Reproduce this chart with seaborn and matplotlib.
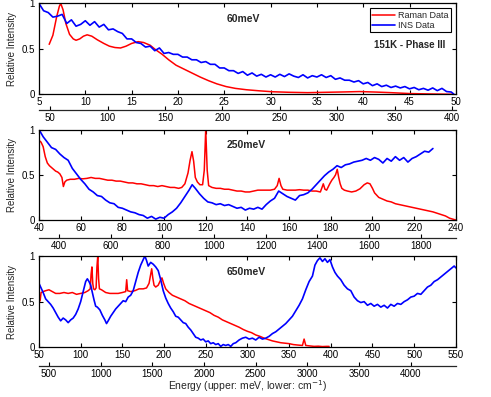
import numpy as np
import matplotlib
matplotlib.use("Agg")
import matplotlib.pyplot as plt
import seaborn as sns

# panel 1 : 60meV incident energy, 5 - 50 meV
raman1_e = [6.1, 6.5, 6.9, 7.2, 7.35, 7.6, 7.9, 8.3, 8.7, 9.0, 9.4, 9.8, 10.2, 10.7, 11.3, 12.0, 12.6,
            13.2, 13.8, 14.4, 15.0, 15.7, 16.3, 17.0, 17.6, 18.3, 19.0, 19.8, 20.6, 21.5, 22.4, 23.3,
            24.2, 25.2, 26.2, 27.4, 28.8, 30.2, 32.0, 34.0, 36.0, 38.0, 39.6, 41.5, 43.0, 45.0, 47.0, 49.7]
raman1_i = [0.55, 0.65, 0.85, 0.97, 1.0, 0.93, 0.78, 0.66, 0.61, 0.595, 0.61, 0.64, 0.655, 0.64, 0.60,
            0.56, 0.53, 0.515, 0.51, 0.53, 0.56, 0.58, 0.57, 0.54, 0.49, 0.44, 0.38, 0.32, 0.28, 0.235,
            0.19, 0.15, 0.115, 0.085, 0.065, 0.05, 0.038, 0.028, 0.022, 0.018, 0.022, 0.026, 0.03,
            0.024, 0.018, 0.008, 0.004, 0.0]
ins1_e = [5.0, 5.5, 6.0, 6.5, 7.0, 7.5, 8.0, 8.5, 9.0, 9.5, 10.0, 10.5, 11.0, 11.5, 12.0, 12.5, 13.0,
          13.5, 14.0, 14.5, 15.0, 15.5, 16.0, 16.5, 17.0, 17.5, 18.0, 18.5, 19.0, 19.5, 20.0, 20.5,
          21.0, 21.5, 22.0, 22.5, 23.0, 23.5, 24.0, 24.5, 25.0, 25.5, 26.0, 26.5, 27.0, 27.5, 28.0,
          28.5, 29.0, 29.5, 30.0, 30.5, 31.0, 31.5, 32.0, 32.5, 33.0, 33.5, 34.0, 34.5, 35.0, 35.5,
          36.0, 36.5, 37.0, 37.5, 38.0, 38.5, 39.0, 39.5, 40.0, 40.5, 41.0, 41.5, 42.0, 42.5, 43.0,
          43.5, 44.0, 44.5, 45.0, 45.5, 46.0, 46.5, 47.0, 47.5, 48.0, 48.5, 49.0, 49.5, 49.8]
ins1_i = [1.00, 0.92, 0.90, 0.85, 0.86, 0.88, 0.78, 0.82, 0.75, 0.77, 0.81, 0.76, 0.80, 0.74, 0.77,
          0.71, 0.72, 0.69, 0.67, 0.61, 0.61, 0.57, 0.56, 0.52, 0.53, 0.48, 0.51, 0.45, 0.46, 0.44,
          0.44, 0.41, 0.41, 0.38, 0.38, 0.35, 0.36, 0.33, 0.33, 0.29, 0.29, 0.26, 0.26, 0.23, 0.25,
          0.21, 0.235, 0.20, 0.22, 0.19, 0.215, 0.19, 0.22, 0.195, 0.225, 0.20, 0.185, 0.215, 0.18,
          0.205, 0.19, 0.215, 0.185, 0.205, 0.165, 0.18, 0.155, 0.155, 0.135, 0.15, 0.115, 0.13, 0.095,
          0.115, 0.085, 0.10, 0.075, 0.09, 0.07, 0.085, 0.06, 0.075, 0.05, 0.065, 0.045, 0.07, 0.04,
          0.065, 0.03, 0.025, 0.0]

# panel 2 : 250meV, 40 - 240 meV
raman2_e = [40, 41, 42, 43, 44, 45, 46, 47, 48, 49, 50, 51, 51.7, 52.4, 53.3, 55, 57, 59, 61, 63, 65,
            67, 69, 71, 73, 75, 77, 79, 81, 83, 85, 87, 89, 91, 93, 95, 97, 99, 101, 103, 105, 107,
            108.5, 110, 111.5, 112.5, 113.4, 114.2, 115, 116, 117.2, 118.5, 119.3, 120, 120.7, 121.4,
            123, 125, 127, 129, 131, 133, 135, 137, 139, 141, 143, 145, 147, 149, 151, 153, 154.3,
            155.2, 156.1, 157, 159, 161, 163, 165, 167, 169, 171, 173, 175, 175.8, 176.4, 177.2, 178,
            179.5, 180.5, 181.5, 182.3, 183.1, 183.8, 184.5, 185.3, 186.5, 188, 190, 192, 194, 196,
            197.5, 198.8, 200, 201, 203, 205, 207, 209, 211, 213, 215, 217, 219, 221, 223, 225, 227,
            229, 231, 233, 235, 237, 238.5, 240]
raman2_i = [0.88, 0.86, 0.81, 0.70, 0.63, 0.60, 0.58, 0.56, 0.54, 0.53, 0.51, 0.47, 0.37, 0.42, 0.44,
            0.45, 0.45, 0.46, 0.455, 0.46, 0.47, 0.46, 0.46, 0.45, 0.44, 0.44, 0.43, 0.43, 0.42, 0.41,
            0.41, 0.40, 0.40, 0.39, 0.38, 0.38, 0.37, 0.38, 0.37, 0.36, 0.36, 0.35, 0.36, 0.40, 0.52,
            0.66, 0.755, 0.65, 0.47, 0.42, 0.39, 0.39, 0.55, 1.0, 0.55, 0.38, 0.36, 0.35, 0.35, 0.34,
            0.34, 0.33, 0.32, 0.32, 0.31, 0.31, 0.32, 0.33, 0.33, 0.33, 0.33, 0.34, 0.38, 0.46, 0.38,
            0.34, 0.33, 0.33, 0.33, 0.335, 0.33, 0.33, 0.32, 0.32, 0.31, 0.36, 0.40, 0.34, 0.33, 0.40,
            0.44, 0.47, 0.50, 0.56, 0.47, 0.40, 0.35, 0.33, 0.32, 0.31, 0.32, 0.345, 0.39, 0.41, 0.40,
            0.35, 0.30, 0.25, 0.23, 0.21, 0.20, 0.18, 0.17, 0.16, 0.15, 0.14, 0.13, 0.12, 0.11, 0.10,
            0.09, 0.075, 0.06, 0.045, 0.02, 0.01, 0.0]
ins2_e = [40, 42, 44, 46, 48, 50, 52, 54, 56, 58, 60, 62, 64, 66, 68, 70, 72, 74, 76, 78, 80, 82, 84,
          86, 88, 90, 92, 94, 96, 98, 100, 102, 104, 106, 108, 110, 112, 113.5, 115, 117, 119, 121,
          123, 125, 127, 129, 131, 133, 135, 137, 139, 141, 143, 145, 147, 149, 151, 153, 155, 157,
          159, 161, 163, 165, 167, 169, 171, 173, 175, 177, 179, 181, 183, 185, 187, 189, 191, 193,
          195, 197, 199, 201, 203, 205, 207, 209, 211, 213, 215, 217, 219, 221, 223, 225, 227, 229]
ins2_i = [1.00, 0.92, 0.86, 0.80, 0.78, 0.73, 0.69, 0.66, 0.57, 0.51, 0.45, 0.40, 0.34, 0.31, 0.27,
          0.26, 0.22, 0.19, 0.18, 0.14, 0.13, 0.11, 0.09, 0.08, 0.06, 0.05, 0.02, 0.04, 0.01, 0.03,
          0.02, 0.06, 0.09, 0.13, 0.19, 0.26, 0.33, 0.39, 0.35, 0.29, 0.24, 0.20, 0.19, 0.17, 0.18,
          0.16, 0.17, 0.15, 0.13, 0.14, 0.11, 0.13, 0.12, 0.14, 0.12, 0.17, 0.21, 0.24, 0.32, 0.29,
          0.26, 0.24, 0.22, 0.27, 0.28, 0.30, 0.34, 0.39, 0.44, 0.49, 0.53, 0.56, 0.60, 0.58, 0.61,
          0.62, 0.64, 0.65, 0.66, 0.68, 0.66, 0.69, 0.67, 0.63, 0.68, 0.65, 0.70, 0.66, 0.69, 0.64,
          0.68, 0.70, 0.73, 0.76, 0.75, 0.79]

# panel 3 : 650meV, 50 - 550 meV
raman3_e = [50, 50.5, 51.5, 52.5, 55, 58, 62, 66, 70, 75, 80, 85, 90, 95, 100, 105, 109, 111.5, 112.5,
            113.5, 114.5, 115.5, 117, 118.5, 119.5, 120.5, 121.5, 122.5, 125, 130, 135, 140, 145, 150,
            154, 155.2, 156.3, 160, 165, 170, 175, 179, 182, 184, 185.2, 186.5, 188, 190, 193, 196,
            197.5, 199.5, 202, 206, 210, 215, 220, 225, 230, 235, 240, 245, 250, 255, 260, 265, 270,
            275, 280, 285, 290, 295, 300, 305, 310, 315, 320, 325, 330, 335, 340, 345, 350, 355, 360,
            366, 368, 370, 375, 380, 385, 390, 395, 398]
raman3_i = [0.62, 0.50, 0.52, 0.60, 0.61, 0.62, 0.63, 0.61, 0.59, 0.59, 0.60, 0.59, 0.60, 0.58, 0.59,
            0.60, 0.62, 0.64, 0.80, 0.88, 0.70, 0.64, 0.63, 0.65, 0.88, 1.0, 0.75, 0.64, 0.63, 0.60,
            0.59, 0.59, 0.59, 0.60, 0.61, 0.74, 0.62, 0.61, 0.62, 0.64, 0.64, 0.65, 0.70, 0.80, 0.86,
            0.76, 0.68, 0.66, 0.68, 0.74, 0.76, 0.70, 0.64, 0.60, 0.57, 0.55, 0.53, 0.51, 0.48, 0.46,
            0.44, 0.42, 0.40, 0.38, 0.35, 0.33, 0.30, 0.28, 0.26, 0.24, 0.22, 0.195, 0.175, 0.16,
            0.135, 0.12, 0.10, 0.085, 0.07, 0.06, 0.05, 0.045, 0.04, 0.03, 0.025, 0.02, 0.09, 0.02,
            0.015, 0.01, 0.012, 0.008, 0.01, 0.01]
ins3_e = [50, 52, 55, 58, 61, 64, 67, 70, 73, 76, 79, 82, 85, 88, 91, 94, 97, 100, 103, 106, 108, 110,
          112, 114, 116, 118, 120, 123, 126, 129, 131, 133, 136, 139, 142, 145, 148, 151, 154, 157,
          160, 163, 166, 169, 172, 175, 177, 179, 181, 184, 187, 190, 193, 196, 199, 202, 205, 208,
          211, 214, 217, 220, 223, 226, 229, 232, 235, 238, 241, 244, 247, 250, 253, 256, 259, 262,
          265, 268, 271, 274, 277, 280, 283, 286, 290, 294, 298, 302, 306, 310, 314, 318, 322, 326,
          330, 334, 338, 342, 346, 350, 354, 358, 362, 366, 370, 374, 378, 381, 384, 387, 390, 393,
          396, 399, 402, 405, 408, 412, 416, 420, 424, 428, 432, 436, 440, 444, 448, 452, 456, 460,
          464, 468, 472, 476, 480, 484, 488, 492, 496, 500, 504, 508, 512, 516, 520, 524, 528, 532,
          536, 540, 544, 548, 550]
ins3_i = [0.70, 0.66, 0.60, 0.53, 0.50, 0.47, 0.43, 0.38, 0.33, 0.29, 0.32, 0.30, 0.27, 0.30, 0.32,
          0.36, 0.42, 0.50, 0.61, 0.72, 0.75, 0.72, 0.68, 0.60, 0.52, 0.45, 0.44, 0.41, 0.35, 0.30,
          0.26, 0.29, 0.34, 0.38, 0.42, 0.45, 0.48, 0.51, 0.50, 0.55, 0.57, 0.62, 0.72, 0.82, 0.90,
          0.96, 1.00, 0.95, 0.89, 0.93, 0.91, 0.88, 0.84, 0.74, 0.62, 0.54, 0.48, 0.43, 0.39, 0.34,
          0.33, 0.30, 0.27, 0.26, 0.22, 0.19, 0.15, 0.11, 0.10, 0.08, 0.09, 0.06, 0.07, 0.04, 0.05,
          0.03, 0.04, 0.01, 0.03, 0.02, 0.03, 0.01, 0.04, 0.05, 0.08, 0.10, 0.11, 0.09, 0.10, 0.08,
          0.11, 0.09, 0.10, 0.12, 0.15, 0.17, 0.20, 0.23, 0.26, 0.30, 0.34, 0.40, 0.46, 0.53, 0.63,
          0.72, 0.78, 0.90, 0.95, 0.98, 0.94, 0.97, 0.93, 0.96, 0.88, 0.82, 0.78, 0.74, 0.68, 0.64,
          0.62, 0.55, 0.51, 0.49, 0.50, 0.46, 0.48, 0.45, 0.47, 0.44, 0.46, 0.43, 0.47, 0.45, 0.48,
          0.47, 0.50, 0.52, 0.55, 0.56, 0.59, 0.58, 0.62, 0.66, 0.68, 0.72, 0.74, 0.77, 0.80, 0.83,
          0.86, 0.89, 0.87]

panels = [
    dict(raman=(raman1_e, raman1_i), ins=(ins1_e, ins1_i), xlim=(5, 50), xt=np.arange(5, 51, 5),
         cm=np.arange(50, 401, 50), name="60meV", rect=(0.0794, 0.7625, 0.849, 0.2287), off=-0.175),
    dict(raman=(raman2_e, raman2_i), ins=(ins2_e, ins2_i), xlim=(40, 240), xt=np.arange(40, 241, 20),
         cm=np.arange(400, 1801, 200), name="250meV", rect=(0.0794, 0.4458, 0.849, 0.228), off=-0.2),
    dict(raman=(raman3_e, raman3_i), ins=(ins3_e, ins3_i), xlim=(50, 550), xt=np.arange(50, 551, 50),
         cm=np.arange(500, 4001, 500), name="650meV", rect=(0.0794, 0.1252, 0.849, 0.230), off=-0.205),
]

MEV_TO_CM = 8.0655

sns.set_style("ticks")
plt.rcParams['font.family'] = ['Liberation Sans', 'DejaVu Sans']
plt.rcParams['axes.linewidth'] = 0.9

fig = plt.figure(figsize=(4.91, 3.97), dpi=100)

for k, p in enumerate(panels):
    ax = fig.add_axes(p["rect"])
    sns.lineplot(x=p["raman"][0], y=p["raman"][1], color='#ff0000', lw=1.1, ax=ax,
                 label="Raman Data" if k == 0 else None, sort=False, estimator=None)
    sns.lineplot(x=p["ins"][0], y=p["ins"][1], color='#0000ff', lw=1.2, ax=ax,
                 label="INS Data" if k == 0 else None, sort=False, estimator=None)
    ax.set_xlim(*p["xlim"])
    ax.set_ylim(0, 1)
    ax.set_xticks(p["xt"])
    ax.set_xticklabels([str(v) for v in p["xt"]])
    ax.set_yticks([0, 0.5, 1])
    ax.set_yticklabels(['0', '0.5', '1'])
    ax.tick_params(direction='in', top=True, right=True, length=3, width=0.8,
                   labelsize=7, pad=2, colors='black')
    ax.tick_params(axis='y', pad=3)
    for s in ax.spines.values():
        s.set_visible(True)
        s.set_color('black')
    ax.set_ylabel("Relative Intensity", fontsize=7)
    ax.yaxis.set_label_coords(-0.052, 0.5)
    ax.set_xlabel("")
    ax.text(0.45, 0.83, p["name"], transform=ax.transAxes, fontsize=7.5,
            fontweight='bold', va='center', ha='left')

    # secondary energy scale in wavenumbers
    sec = ax.secondary_xaxis(p["off"], functions=(lambda e: e * MEV_TO_CM,
                                                  lambda c: c / MEV_TO_CM))
    sec.set_xticks(p["cm"])
    sec.set_xticklabels([str(v) for v in p["cm"]])
    sec.tick_params(direction='in', length=3, width=0.8, labelsize=7, pad=2, colors='black')
    sec.spines['bottom'].set_linewidth(0.9)

    if k == 0:
        leg = ax.legend(loc='upper right', bbox_to_anchor=(0.988, 0.945), fontsize=6.5,
                        frameon=True, fancybox=False, edgecolor='black', framealpha=1,
                        handlelength=2.6, borderpad=0.25, labelspacing=0.15,
                        handletextpad=0.3, borderaxespad=0)
        leg.get_frame().set_linewidth(0.8)
        ax.text(0.975, 0.54, "151K - Phase III", transform=ax.transAxes, fontsize=7,
                fontweight='bold', va='center', ha='right')
    else:
        if ax.get_legend() is not None:
            ax.get_legend().remove()

fig.text(0.503, 0.027, "Energy (upper: meV, lower: cm$^{-1}$)", ha='center', va='center',
         fontsize=7.5)

fig.savefig("out.png", dpi=100)
